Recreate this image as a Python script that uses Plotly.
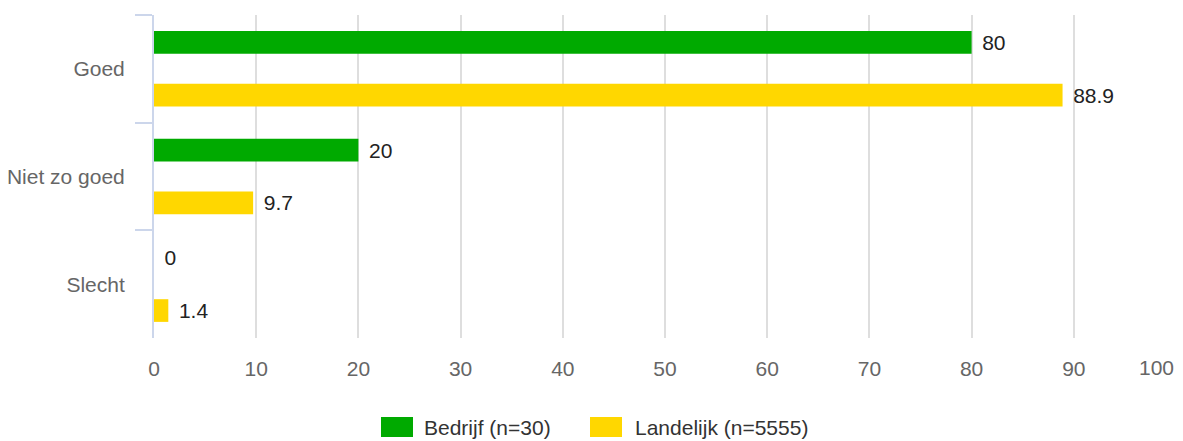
import plotly.graph_objects as go

categories = ["Goed", "Niet zo goed", "Slecht"]
series_names = ["Bedrijf (n=30)", "Landelijk (n=5555)"]
bedrijf = [80, 20, 0]
landelijk = [88.9, 9.7, 1.4]
series_colors = ["#00AA00", "#FFD700"]
x_ticks = [0, 10, 20, 30, 40, 50, 60, 70, 80, 90, 100]

FONT = "Liberation Sans, Arial, sans-serif"
W, H = 1183, 441
ML, MR, MT, MB = 154, 7, 15, 103
PW, PH = W - ML - MR, H - MT - MB

fig = go.Figure()
for name, vals, col in zip(series_names, [bedrijf, landelijk], series_colors):
    fig.add_trace(go.Bar(
        y=categories, x=vals, name=name, orientation="h",
        marker=dict(color=col, line=dict(width=0)),
        text=[f"\u00a0\u200a{v:g}" for v in vals],
        textposition="outside", cliponaxis=False, constraintext="none",
        textfont=dict(family=FONT, size=21, color="#222222"),
        showlegend=False,
    ))

# custom legend (large swatches like the reference)
def px_to_paper_x(px):
    return (px - ML) / PW

def px_to_paper_y(py):
    return (H - MB - py) / PH

legend_items = [(381, 422), (590, 633)]
shapes = []
annotations = []
for (sx, tx), name, col in zip(legend_items, series_names, series_colors):
    shapes.append(dict(type="rect", xref="paper", yref="paper",
                       x0=px_to_paper_x(sx), x1=px_to_paper_x(sx + 32),
                       y0=px_to_paper_y(437), y1=px_to_paper_y(417),
                       fillcolor=col, line=dict(width=0)))
    annotations.append(dict(xref="paper", yref="paper",
                            x=px_to_paper_x(tx), y=px_to_paper_y(427),
                            xanchor="left", yanchor="middle", showarrow=False,
                            text=name, font=dict(family=FONT, size=21, color="#333333")))

# last x tick label right-aligned so it stays inside the figure
annotations.append(dict(xref="x", yref="paper", x=x_ticks[-1], y=px_to_paper_y(367),
                        xanchor="right", yanchor="middle", showarrow=False,
                        text=str(x_ticks[-1]),
                        font=dict(family=FONT, size=21, color="#666666")))

fig.update_layout(
    width=W, height=H,
    margin=dict(l=ML, r=MR, t=MT, b=MB, autoexpand=False),
    paper_bgcolor="white", plot_bgcolor="white",
    barmode="group", bargap=0.02, bargroupgap=0.57,
    font=dict(family=FONT, size=21, color="#666666"),
    shapes=shapes, annotations=annotations,
    xaxis=dict(range=[0, 100], tickvals=x_ticks[:-1],
               ticktext=[str(t) for t in x_ticks[:-1]],
               showgrid=True, gridcolor="#dedede", gridwidth=2,
               zeroline=False, showline=False, ticks="",
               ticklabelstandoff=16, automargin=False,
               tickfont=dict(family=FONT, size=21, color="#666666")),
    yaxis=dict(autorange="reversed", showline=True, linecolor="#ccd6eb", linewidth=2,
               ticks="outside", tickson="boundaries", ticklen=17, tickwidth=2,
               tickcolor="#ccd6eb", showgrid=False, zeroline=False,
               ticklabelstandoff=23, automargin=False,
               tickfont=dict(family=FONT, size=21, color="#666666")),
)

fig.write_html("out.html", config={"displayModeBar": False},
               post_script="document.body.style.margin='0';document.body.style.overflow='hidden';")
